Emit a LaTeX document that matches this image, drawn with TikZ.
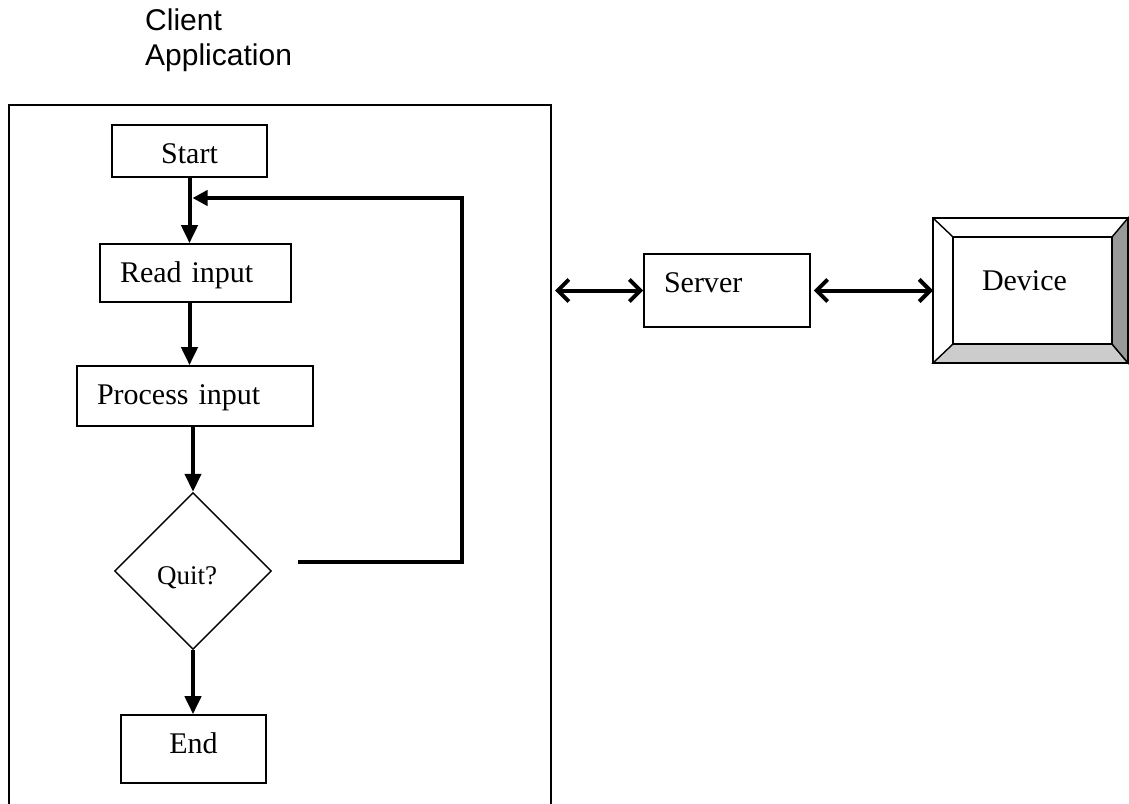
\documentclass[tikz,border=0pt]{standalone}
\usepackage{fontspec}
\setmainfont{Liberation Serif}
\newfontfamily\titlefont{Liberation Sans}
\usetikzlibrary{shapes.geometric,arrows.meta,calc}
\definecolor{bevellight}{RGB}{204,204,204}
\definecolor{beveldark}{RGB}{153,153,153}

\begin{document}
\begin{tikzpicture}[x=1pt,y=-1pt,
  boxfont/.style={font=\fontsize{30}{34}\selectfont},
  flowbox/.style={draw, line width=1.6pt, inner ysep=0pt, text height=38pt, boxfont},
  centerbox/.style={flowbox, inner xsep=0pt, align=center},
  leftbox/.style={flowbox, inner xsep=20pt, align=left},
  flow/.style={line width=4pt, -{Triangle[length=18pt,width=16pt]}},
  loopline/.style={line width=4pt, -{Triangle[length=15pt,width=15pt]}},
  link/.style={line width=4pt, {Straight Barb[length=11pt,width=22pt]}-{Straight Barb[length=11pt,width=22pt]}}]

\useasboundingbox (0,0) rectangle (1129,803);

% title of the client block (base anchor sits on the last line)
\node[anchor=base west, align=left, inner sep=0pt,
      font=\titlefont\fontsize{30}{35}\selectfont] (title) at (145,65) {Client\\Application};

% client application frame (runs off the bottom edge)
\node[draw, line width=1.6pt, inner sep=0pt, outer sep=0pt,
      minimum width=542pt, minimum height=710pt] (container) at (280,460) {};

% flowchart
\node[centerbox, minimum width=155pt, text depth=14pt] (start) at (189.5,151) {Start};
\node[leftbox, text width=151pt, text depth=20pt] (read) at (195.5,273) {Read input};
\node[leftbox, text width=196pt, text depth=22pt] (process) at (195,396) {Process input};
\node[diamond, draw, line width=1.4pt, aspect=1, inner sep=0pt,
      minimum width=157pt, minimum height=157pt,
      text height=26pt, text depth=0pt,
      font=\fontsize{27}{32}\selectfont] (quit) at (193,571) {Quit?\kern12pt};
\node[centerbox, minimum width=145pt, text depth=30pt] (end) at (193.5,749) {End};

\draw[flow] (start.south) -- (start.south |- read.north);
\draw[flow] (read.south -| start.south) -- (process.north -| start.south);
\draw[flow] (process.south -| quit.north) -- (quit.north);
\draw[flow] (quit.south) -- (quit.south |- end.north);

% loop back from the decision to the input step
\coordinate (loopfrom) at (298,562);
\coordinate (loopturn) at (462,198);
\coordinate (loopjoin) at ($(start.south |- 0,198)+(3,0)$);
\draw[loopline] (loopfrom) -| (loopturn) -- (loopjoin);

% server
\node[leftbox, text width=126pt, text depth=35pt] (server) at (727,290.5) {Server};

% device with bevelled frame
\node[draw, line width=1.6pt, outer sep=0pt, inner ysep=0pt, inner xsep=49pt,
      text width=97pt, align=left, text height=72pt, text depth=73pt, boxfont,
      fill=white] (device) at (1030.5,290.5) {Device};
\coordinate (inw) at ($(device.north west)+(20,19)$);
\coordinate (ine) at ($(device.north east)+(-16,19)$);
\coordinate (ise) at ($(device.south east)+(-16,-19)$);
\coordinate (isw) at ($(device.south west)+(20,-19)$);
\filldraw[line width=1.4pt, fill=bevellight] (device.south west) -- (isw) -- (ise) -- (device.south east) -- cycle;
\filldraw[line width=1.4pt, fill=beveldark] (device.north east) -- (ine) -- (ise) -- (device.south east) -- cycle;
\draw[line width=1.4pt] (inw) rectangle (ise);
\draw[line width=1.4pt] (device.north west) -- (inw);
\draw[line width=1.6pt] (device.north west) rectangle (device.south east);

% connections between client, server and device
\draw[link, shorten <=4pt] (container.east |- server.west) -- (server.west);
\draw[link, shorten <=3pt] (server.east) -- (server.east -| device.west);
\end{tikzpicture}
\end{document}
